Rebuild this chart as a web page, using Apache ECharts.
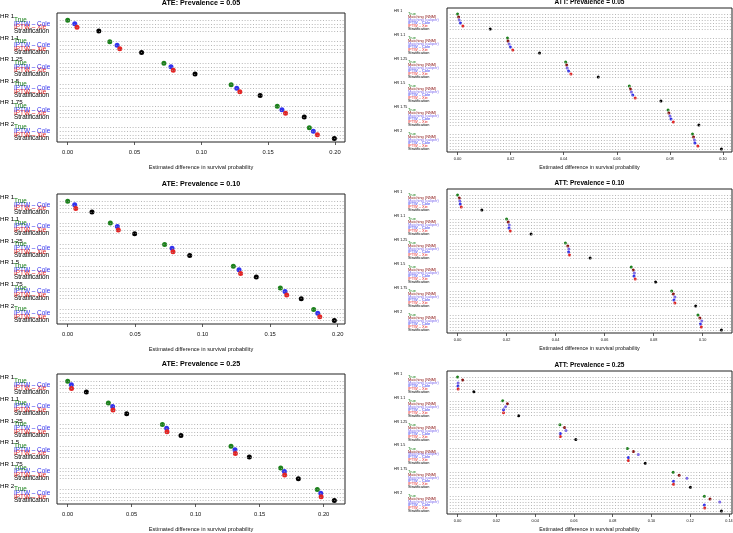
<!DOCTYPE html>
<html>
<head>
<meta charset="utf-8">
<script src="https://cdn.jsdelivr.net/npm/echarts@6/dist/echarts.min.js"></script>
<style>
  html, body { margin: 0; padding: 0; background: #fff; }
  #main { width: 733px; height: 533px; }
</style>
</head>
<body>
<div id="main"></div>
<script>
var hrGroups = ['HR 1', 'HR 1.1', 'HR 1.25', 'HR 1.5', 'HR 1.75', 'HR 2'];
var ateMethods = ['True', 'IPTW – Cole', 'IPTW – Xie', 'Stratification'];
var attMethods = ['True', 'Matching (NNM)', 'Matching (caliper)', 'IPTW – Cole', 'IPTW – Xie', 'Stratification'];
var ateColors = ['#1c821c', '#3232ee', '#e52525', '#000000'];
var attColors = ['#1c821c', '#8b1414', '#7b68ee', '#3232ee', '#e52525', '#000000'];

// one row per method, one value per HR group
var ate05 = [
  [0.000, 0.0315, 0.0720, 0.1223, 0.1568, 0.1808],
  [0.0053, 0.0370, 0.0773, 0.1265, 0.1603, 0.1838],
  [0.0070, 0.0390, 0.0790, 0.1288, 0.1630, 0.1868],
  [0.0233, 0.0553, 0.0953, 0.1440, 0.1770, 0.1995]
];
var ate10 = [
  [0.000, 0.0316, 0.0718, 0.1227, 0.1575, 0.1822],
  [0.0052, 0.0368, 0.0773, 0.1269, 0.1610, 0.1852],
  [0.0060, 0.0375, 0.0780, 0.1281, 0.1622, 0.1867],
  [0.0180, 0.0496, 0.0904, 0.1397, 0.1730, 0.1975]
];
var ate25 = [
  [0.000, 0.0318, 0.0740, 0.1276, 0.1664, 0.1950],
  [0.0029, 0.0351, 0.0773, 0.1307, 0.1693, 0.1977],
  [0.0030, 0.0354, 0.0776, 0.1310, 0.1695, 0.1980],
  [0.0146, 0.0461, 0.0885, 0.1419, 0.1802, 0.2083]
];
var att05 = [
  [0.000, 0.0188, 0.0407, 0.0647, 0.0793, 0.0885],
  [0.0004, 0.0190, 0.0411, 0.0651, 0.0796, 0.0889],
  [0.0006, 0.0194, 0.0413, 0.0655, 0.0800, 0.0892],
  [0.0011, 0.0199, 0.0418, 0.0660, 0.0804, 0.0894],
  [0.0020, 0.0208, 0.0427, 0.0669, 0.0813, 0.0905],
  [0.0123, 0.0309, 0.0530, 0.0766, 0.0909, 0.0994]
];
var att10 = [
  [0.000, 0.0200, 0.0440, 0.0709, 0.0874, 0.0981],
  [0.0007, 0.0207, 0.0450, 0.0717, 0.0881, 0.0989],
  [0.0009, 0.0211, 0.0454, 0.0722, 0.0887, 0.0997],
  [0.0011, 0.0210, 0.0453, 0.0720, 0.0883, 0.0991],
  [0.0015, 0.0215, 0.0457, 0.0725, 0.0887, 0.0995],
  [0.0099, 0.0300, 0.0541, 0.0808, 0.0972, 0.1077]
];
var att25 = [
  [0.000, 0.0233, 0.0528, 0.0876, 0.1112, 0.1273],
  [0.0026, 0.0257, 0.0552, 0.0907, 0.1143, 0.1302],
  [0.0003, 0.0248, 0.0559, 0.0932, 0.1183, 0.1352],
  [0.0002, 0.0237, 0.0530, 0.0881, 0.1114, 0.1273],
  [0.0003, 0.0237, 0.0530, 0.0881, 0.1114, 0.1275],
  [0.0084, 0.0315, 0.0610, 0.0968, 0.1201, 0.1361]
];

var ateTicks = [0, 0.05, 0.10, 0.15, 0.20];
var att05Ticks = [0, 0.02, 0.04, 0.06, 0.08, 0.10];
var att10Ticks = [0, 0.02, 0.04, 0.06, 0.08, 0.10];
var att25Ticks = [0, 0.02, 0.04, 0.06, 0.08, 0.10, 0.12, 0.14];

var xName = 'Estimated difference in survival probability';
var fontFamily = 'Liberation Sans, Arial, Helvetica, sans-serif';

// left column (ATE) and right column (ATT) look
var ateStyle = {x: 57, width: 288, titleSize: 7.2, titleGap: 10, tickSize: 5.8, tickMargin: 7,
  nameSize: 5.6, nameGap: 22, groupSize: 6.2, itemSize: 6.4, groupMargin: 57, itemMargin: 43, dot: 5};
var attStyle = {x: 447, width: 285, titleSize: 6.5, titleGap: 6, tickSize: 3.8, tickMargin: 5,
  nameSize: 5.4, nameGap: 13, groupSize: 3.6, itemSize: 3.9, groupMargin: 53, itemMargin: 39, dot: 3};

var panels = [
  {title: 'ATE: Prevalence = 0.05', values: ate05, methods: ateMethods, colors: ateColors, ticks: ateTicks, st: ateStyle, top: 13, height: 129},
  {title: 'ATE: Prevalence = 0.10', values: ate10, methods: ateMethods, colors: ateColors, ticks: ateTicks, st: ateStyle, top: 194, height: 130},
  {title: 'ATE: Prevalence = 0.25', values: ate25, methods: ateMethods, colors: ateColors, ticks: ateTicks, st: ateStyle, top: 374, height: 130},
  {title: 'ATT: Prevalence = 0.05', values: att05, methods: attMethods, colors: attColors, ticks: att05Ticks, st: attStyle, top: 8, height: 144},
  {title: 'ATT: Prevalence = 0.10', values: att10, methods: attMethods, colors: attColors, ticks: att10Ticks, st: attStyle, top: 189, height: 144},
  {title: 'ATT: Prevalence = 0.25', values: att25, methods: attMethods, colors: attColors, ticks: att25Ticks, st: attStyle, top: 371, height: 143}
];

var titles = [], grids = [], xAxes = [], yAxes = [], series = [];

panels.forEach(function(p, pi) {
    var s = p.st;
    var k = p.methods.length,
        nG = hrGroups.length,
        step = k + 2;
    // dotchart rows: groups top to bottom, two spare rows between groups
    var itemY = function(g, i) { return (nG - 1 - g) * step + (k - i); };
    var groupY = function(g) { return (nG - 1 - g) * step + k + 1; };

    var maxV = 0;
    p.values.forEach(function(row) { row.forEach(function(v) { if (v > maxV) maxV = v; }); });

    var rows = [];
    for (var r = 0; r <= nG * step; r++) rows.push(String(r));

    var groupLabel = {}, itemLabel = {}, itemYs = [];
    hrGroups.forEach(function(g, gi) {
        groupLabel[groupY(gi)] = g;
        p.methods.forEach(function(m, mi) {
            itemLabel[itemY(gi, mi)] = mi;
            itemYs.push(itemY(gi, mi));
        });
    });
    var rich = {};
    p.colors.forEach(function(c, ci) {
        rich['m' + ci] = {color: c, fontSize: s.itemSize, fontFamily: fontFamily};
    });

    titles.push({
        text: p.title, left: s.x + s.width / 2, top: p.top - s.titleGap,
        textAlign: 'center', textVerticalAlign: 'middle', padding: 0,
        textStyle: {fontSize: s.titleSize, fontWeight: 'bold', color: '#000', fontFamily: fontFamily}
    });
    grids.push({
        left: s.x, top: p.top, width: s.width, height: p.height, outerBoundsMode: 'none',
        show: true, borderColor: '#222', borderWidth: 1, backgroundColor: 'transparent'
    });
    xAxes.push({
        gridIndex: pi, type: 'value', min: -0.04 * maxV, max: 1.04 * maxV,
        name: xName, nameLocation: 'middle', nameGap: s.nameGap,
        nameTextStyle: {fontSize: s.nameSize, color: '#111', fontFamily: fontFamily},
        axisLine: {show: false}, splitLine: {show: false},
        axisTick: {show: true, customValues: p.ticks, length: 3, lineStyle: {color: '#333', width: 0.8}},
        axisLabel: {customValues: p.ticks, fontSize: s.tickSize, color: '#111', margin: s.tickMargin, fontFamily: fontFamily,
            showMinLabel: true, showMaxLabel: true,
            formatter: function(v) { return v.toFixed(2); }}
    });
    yAxes.push({
        gridIndex: pi, type: 'category', position: 'left', data: rows, boundaryGap: false,
        axisLine: {show: false}, axisTick: {show: false}, splitLine: {show: false},
        axisLabel: {interval: 0, align: 'left', margin: s.groupMargin, fontSize: s.groupSize,
            color: '#000', fontFamily: fontFamily,
            formatter: function(v) { return groupLabel[Number(v)] || ''; }}
    });
    yAxes.push({
        gridIndex: pi, type: 'category', position: 'left', offset: 0, data: rows, boundaryGap: false,
        axisLine: {show: false}, axisTick: {show: false}, splitLine: {show: false},
        axisLabel: {interval: 0, align: 'left', margin: s.itemMargin, fontSize: s.itemSize,
            fontFamily: fontFamily, rich: rich,
            formatter: function(v) {
                var mi = itemLabel[Number(v)];
                return mi == null ? '' : '{m' + mi + '|' + p.methods[mi] + '}';
            }}
    });

    // dotted row lines
    series.push({
        type: 'scatter', xAxisIndex: pi, yAxisIndex: 2 * pi + 1, data: [], z: 1, silent: true,
        markLine: {
            silent: true, symbol: ['none', 'none'], label: {show: false}, animation: false,
            lineStyle: {type: [1, 1.8], color: '#9a9a9a', width: 0.7},
            emphasis: {disabled: true},
            data: itemYs.map(function(y) { return {yAxis: String(y)}; })
        }
    });
    p.methods.forEach(function(m, mi) {
        series.push({
            type: 'scatter', name: m, xAxisIndex: pi, yAxisIndex: 2 * pi + 1, z: 3, silent: true,
            symbolSize: s.dot, itemStyle: {color: p.colors[mi], opacity: 1},
            data: hrGroups.map(function(g, gi) { return [p.values[mi][gi], itemY(gi, mi)]; })
        });
    });
});

var chart = echarts.init(document.getElementById('main'), null, {renderer: 'canvas'});
chart.setOption({
    animation: false,
    backgroundColor: '#fff',
    textStyle: {fontFamily: fontFamily},
    title: titles,
    grid: grids,
    xAxis: xAxes,
    yAxis: yAxes,
    series: series
});
</script>
</body>
</html>
